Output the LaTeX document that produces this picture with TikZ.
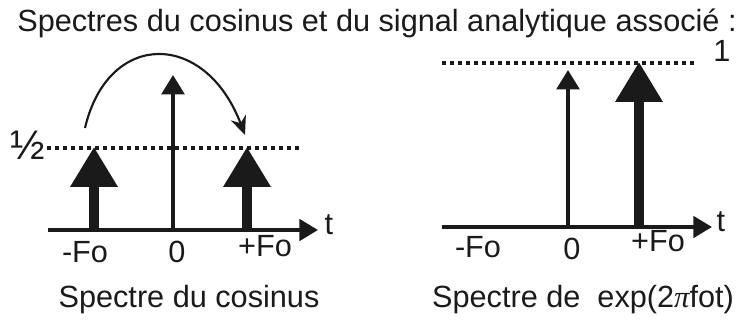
\documentclass[tikz,border=0pt]{standalone}
\usepackage{fontspec}
\setmainfont{Liberation Sans}
\usetikzlibrary{arrows.meta,positioning,calc}
\definecolor{ink}{HTML}{1A1A1A}

\begin{document}
\begin{tikzpicture}[
  x=0.75pt, y=-0.75pt, font=\fontsize{23}{27}\selectfont,
  lbl/.style={anchor=base, inner sep=0pt, text=ink},
  axisline/.style={ink, line width=3pt, -{Triangle[length=14pt, width=16pt]}},
  thinpeak/.style={ink, line width=2.7pt, -{Triangle[length=14.5pt, width=17pt]}},
  thickpeak/.style={ink, line width=6.8pt, -{Triangle[length=30pt, width=34pt]}},
  level/.style={ink, line width=2.6pt, dash pattern=on 2.8pt off 3.2pt},
  hop/.style={ink, line width=1.6pt, -{Stealth[length=14pt, width=12pt]}}]
\useasboundingbox (0,0) rectangle (747,320);

\node[lbl] (title) at (377,32) {Spectres du cosinus et du signal analytique associé :};

% ============================================== left: cosinus
\coordinate (lo) at (48,230);
\coordinate (lt) at (318,230);
\coordinate (lhalfa) at (47,148);
\coordinate (lhalfb) at (300,148);
\draw[level] (lhalfa) -- (lhalfb);
\draw[axisline] (lo) -- (lt);

\coordinate (lneg) at (94,230);  \coordinate (lnegtip) at (94,147);
\coordinate (lzero) at (173,230); \coordinate (lzerotip) at (173,75);
\coordinate (lpos) at (247,230); \coordinate (lpostip) at (247,147);
\draw[thickpeak] (lneg) -- (lnegtip);
\draw[thinpeak] (lzero) -- (lzerotip);
\draw[thickpeak] (lpos) -- (lpostip);

% the negative line is moved over to +Fo
\coordinate (hopfrom) at (85,128);
\coordinate (hopto) at (245,135);
\draw[hop] (hopfrom) .. controls (108,30) and (205,30) .. (hopto);

\node[lbl, anchor=center, font=\fontsize{31}{31}\selectfont] (lhalf) at (28,145) {½};
\node[lbl] (lnegl) at (85,263) {-Fo};
\node[lbl] (lzerol) at (177,263) {0};
\node[lbl] (lposl) at (265,257) {+Fo};
\node[lbl] (ltl) at (329,235) {t};
\node[lbl] (lcap) at (189,308) {Spectre du cosinus};

% ============================================== right: signal analytique
\coordinate (ro) at (442,227);
\coordinate (rt) at (712,227);
\coordinate (ronea) at (442,63);
\coordinate (roneb) at (697,63);
\draw[level] (ronea) -- (roneb);
\draw[axisline] (ro) -- (rt);

\coordinate (rzero) at (568,227); \coordinate (rzerotip) at (568,70);
\coordinate (rpos) at (639,227);  \coordinate (rpostip) at (639,62);
\draw[thinpeak] (rzero) -- (rzerotip);
\draw[thickpeak] (rpos) -- (rpostip);

\node[lbl] (rone) at (722,62) {1};
\node[lbl] (rnegl) at (478,258) {-Fo};
\node[lbl] (rzerol) at (572,260) {0};
\node[lbl] (rposl) at (658,252) {+Fo};
\node[lbl] (rtl) at (721,232) {t};
\node[lbl] (rcap) at (583,308) {Spectre de\ \ exp(2{\fontspec{Liberation Serif}\itshape π}fot)};

\end{tikzpicture}
\end{document}
